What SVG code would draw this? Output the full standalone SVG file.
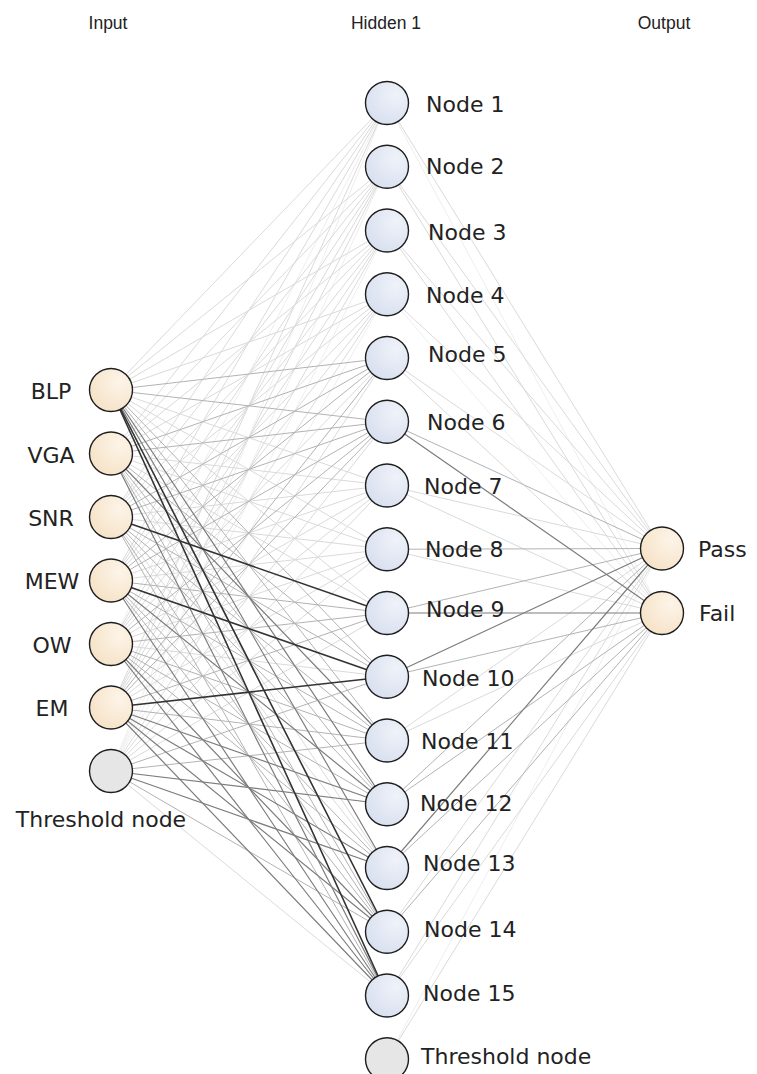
<svg xmlns="http://www.w3.org/2000/svg" width="757" height="1074" viewBox="0 0 757 1074">
<style>
.c line{stroke-linecap:round}
.w0{stroke:#eeeeee;stroke-width:1}
.w1{stroke:#dadada;stroke-width:1}
.w2{stroke:#b3b3b3;stroke-width:1}
.w3{stroke:#7d7d7d;stroke-width:1.2}
.w4{stroke:#333333;stroke-width:1.6}
.n{stroke:#1e1e1e;stroke-width:1.4}
.in{fill:url(#gIn)}
.hid{fill:url(#gHid)}
.th{fill:#e6e6e6}
.lbl{font-family:"DejaVu Sans",Verdana,sans-serif;font-size:22px;fill:#222}
.hdr{font-family:"Liberation Sans",Arial,sans-serif;font-size:17.5px;fill:#222;text-anchor:middle}
</style>
<defs>
<radialGradient id="gIn" cx="0.7" cy="0.3" r="0.85"><stop offset="0" stop-color="#fdf4e8"/><stop offset="1" stop-color="#f5e1c4"/></radialGradient>
<radialGradient id="gHid" cx="0.7" cy="0.3" r="0.85"><stop offset="0" stop-color="#eff2f9"/><stop offset="1" stop-color="#d6deee"/></radialGradient>
</defs>
<rect width="757" height="1074" fill="#ffffff"/>
<g id="headers">
<text class="hdr" x="108" y="29">Input</text>
<text class="hdr" x="386" y="29">Hidden 1</text>
<text class="hdr" x="664" y="29">Output</text>
</g>
<g id="connectors" class="c">
<!-- class 0 -->
<line class="w0" x1="111" y1="644" x2="387" y2="103"/>
<line class="w0" x1="111" y1="771" x2="387" y2="103"/>
<line class="w0" x1="111" y1="771" x2="387" y2="166.75"/>
<line class="w0" x1="111" y1="771" x2="387" y2="230.5"/>
<line class="w0" x1="111" y1="771" x2="387" y2="294.25"/>
<line class="w0" x1="387" y1="103" x2="662" y2="613"/>
<line class="w0" x1="387" y1="294.25" x2="662" y2="613"/>
<line class="w0" x1="387" y1="1059.25" x2="662" y2="548.5"/>
<!-- class 1 -->
<line class="w1" x1="111" y1="390" x2="387" y2="103"/>
<line class="w1" x1="111" y1="390" x2="387" y2="166.75"/>
<line class="w1" x1="111" y1="390" x2="387" y2="230.5"/>
<line class="w1" x1="111" y1="390" x2="387" y2="294.25"/>
<line class="w1" x1="111" y1="390" x2="387" y2="485.5"/>
<line class="w1" x1="111" y1="390" x2="387" y2="549.25"/>
<line class="w1" x1="111" y1="390" x2="387" y2="613"/>
<line class="w1" x1="111" y1="453.5" x2="387" y2="103"/>
<line class="w1" x1="111" y1="453.5" x2="387" y2="166.75"/>
<line class="w1" x1="111" y1="453.5" x2="387" y2="230.5"/>
<line class="w1" x1="111" y1="453.5" x2="387" y2="294.25"/>
<line class="w1" x1="111" y1="453.5" x2="387" y2="485.5"/>
<line class="w1" x1="111" y1="453.5" x2="387" y2="549.25"/>
<line class="w1" x1="111" y1="453.5" x2="387" y2="613"/>
<line class="w1" x1="111" y1="453.5" x2="387" y2="868"/>
<line class="w1" x1="111" y1="517" x2="387" y2="103"/>
<line class="w1" x1="111" y1="517" x2="387" y2="166.75"/>
<line class="w1" x1="111" y1="517" x2="387" y2="230.5"/>
<line class="w1" x1="111" y1="517" x2="387" y2="294.25"/>
<line class="w1" x1="111" y1="517" x2="387" y2="485.5"/>
<line class="w1" x1="111" y1="517" x2="387" y2="549.25"/>
<line class="w1" x1="111" y1="517" x2="387" y2="868"/>
<line class="w1" x1="111" y1="580.5" x2="387" y2="103"/>
<line class="w1" x1="111" y1="580.5" x2="387" y2="166.75"/>
<line class="w1" x1="111" y1="580.5" x2="387" y2="230.5"/>
<line class="w1" x1="111" y1="580.5" x2="387" y2="294.25"/>
<line class="w1" x1="111" y1="580.5" x2="387" y2="485.5"/>
<line class="w1" x1="111" y1="580.5" x2="387" y2="549.25"/>
<line class="w1" x1="111" y1="644" x2="387" y2="166.75"/>
<line class="w1" x1="111" y1="644" x2="387" y2="230.5"/>
<line class="w1" x1="111" y1="644" x2="387" y2="294.25"/>
<line class="w1" x1="111" y1="644" x2="387" y2="358"/>
<line class="w1" x1="111" y1="644" x2="387" y2="485.5"/>
<line class="w1" x1="111" y1="644" x2="387" y2="549.25"/>
<line class="w1" x1="111" y1="644" x2="387" y2="676.75"/>
<line class="w1" x1="111" y1="707.5" x2="387" y2="103"/>
<line class="w1" x1="111" y1="707.5" x2="387" y2="166.75"/>
<line class="w1" x1="111" y1="707.5" x2="387" y2="230.5"/>
<line class="w1" x1="111" y1="707.5" x2="387" y2="294.25"/>
<line class="w1" x1="111" y1="707.5" x2="387" y2="485.5"/>
<line class="w1" x1="111" y1="707.5" x2="387" y2="549.25"/>
<line class="w1" x1="111" y1="771" x2="387" y2="358"/>
<line class="w1" x1="111" y1="771" x2="387" y2="421.75"/>
<line class="w1" x1="111" y1="771" x2="387" y2="485.5"/>
<line class="w1" x1="111" y1="771" x2="387" y2="549.25"/>
<line class="w1" x1="111" y1="771" x2="387" y2="613"/>
<line class="w1" x1="111" y1="771" x2="387" y2="995.5"/>
<line class="w1" x1="387" y1="103" x2="662" y2="548.5"/>
<line class="w1" x1="387" y1="166.75" x2="662" y2="548.5"/>
<line class="w1" x1="387" y1="166.75" x2="662" y2="613"/>
<line class="w1" x1="387" y1="230.5" x2="662" y2="548.5"/>
<line class="w1" x1="387" y1="230.5" x2="662" y2="613"/>
<line class="w1" x1="387" y1="294.25" x2="662" y2="548.5"/>
<line class="w1" x1="387" y1="358" x2="662" y2="548.5"/>
<line class="w1" x1="387" y1="358" x2="662" y2="613"/>
<line class="w1" x1="387" y1="485.5" x2="662" y2="548.5"/>
<line class="w1" x1="387" y1="485.5" x2="662" y2="613"/>
<line class="w1" x1="387" y1="549.25" x2="662" y2="613"/>
<line class="w1" x1="387" y1="740.5" x2="662" y2="548.5"/>
<line class="w1" x1="387" y1="740.5" x2="662" y2="613"/>
<line class="w1" x1="387" y1="931.75" x2="662" y2="548.5"/>
<line class="w1" x1="387" y1="995.5" x2="662" y2="548.5"/>
<line class="w1" x1="387" y1="995.5" x2="662" y2="613"/>
<line class="w1" x1="387" y1="1059.25" x2="662" y2="613"/>
<!-- class 2 -->
<line class="w2" x1="111" y1="390" x2="387" y2="358"/>
<line class="w2" x1="111" y1="390" x2="387" y2="421.75"/>
<line class="w2" x1="111" y1="390" x2="387" y2="676.75"/>
<line class="w2" x1="111" y1="390" x2="387" y2="740.5"/>
<line class="w2" x1="111" y1="453.5" x2="387" y2="358"/>
<line class="w2" x1="111" y1="453.5" x2="387" y2="421.75"/>
<line class="w2" x1="111" y1="453.5" x2="387" y2="676.75"/>
<line class="w2" x1="111" y1="453.5" x2="387" y2="804.25"/>
<line class="w2" x1="111" y1="453.5" x2="387" y2="931.75"/>
<line class="w2" x1="111" y1="517" x2="387" y2="358"/>
<line class="w2" x1="111" y1="517" x2="387" y2="421.75"/>
<line class="w2" x1="111" y1="517" x2="387" y2="676.75"/>
<line class="w2" x1="111" y1="517" x2="387" y2="740.5"/>
<line class="w2" x1="111" y1="517" x2="387" y2="804.25"/>
<line class="w2" x1="111" y1="517" x2="387" y2="931.75"/>
<line class="w2" x1="111" y1="517" x2="387" y2="995.5"/>
<line class="w2" x1="111" y1="580.5" x2="387" y2="358"/>
<line class="w2" x1="111" y1="580.5" x2="387" y2="421.75"/>
<line class="w2" x1="111" y1="580.5" x2="387" y2="613"/>
<line class="w2" x1="111" y1="580.5" x2="387" y2="740.5"/>
<line class="w2" x1="111" y1="580.5" x2="387" y2="868"/>
<line class="w2" x1="111" y1="580.5" x2="387" y2="931.75"/>
<line class="w2" x1="111" y1="644" x2="387" y2="421.75"/>
<line class="w2" x1="111" y1="644" x2="387" y2="613"/>
<line class="w2" x1="111" y1="644" x2="387" y2="740.5"/>
<line class="w2" x1="111" y1="644" x2="387" y2="804.25"/>
<line class="w2" x1="111" y1="644" x2="387" y2="868"/>
<line class="w2" x1="111" y1="707.5" x2="387" y2="358"/>
<line class="w2" x1="111" y1="707.5" x2="387" y2="421.75"/>
<line class="w2" x1="111" y1="707.5" x2="387" y2="613"/>
<line class="w2" x1="111" y1="707.5" x2="387" y2="740.5"/>
<line class="w2" x1="111" y1="771" x2="387" y2="676.75"/>
<line class="w2" x1="111" y1="771" x2="387" y2="740.5"/>
<line class="w2" x1="111" y1="771" x2="387" y2="931.75"/>
<line class="w2" x1="387" y1="421.75" x2="662" y2="548.5"/>
<line class="w2" x1="387" y1="549.25" x2="662" y2="548.5"/>
<line class="w2" x1="387" y1="613" x2="662" y2="548.5"/>
<line class="w2" x1="387" y1="676.75" x2="662" y2="613"/>
<line class="w2" x1="387" y1="804.25" x2="662" y2="548.5"/>
<line class="w2" x1="387" y1="804.25" x2="662" y2="613"/>
<line class="w2" x1="387" y1="868" x2="662" y2="613"/>
<line class="w2" x1="387" y1="931.75" x2="662" y2="613"/>
<!-- class 3 -->
<line class="w3" x1="111" y1="390" x2="387" y2="804.25"/>
<line class="w3" x1="111" y1="390" x2="387" y2="868"/>
<line class="w3" x1="111" y1="453.5" x2="387" y2="740.5"/>
<line class="w3" x1="111" y1="453.5" x2="387" y2="995.5"/>
<line class="w3" x1="111" y1="580.5" x2="387" y2="804.25"/>
<line class="w3" x1="111" y1="580.5" x2="387" y2="995.5"/>
<line class="w3" x1="111" y1="644" x2="387" y2="931.75"/>
<line class="w3" x1="111" y1="644" x2="387" y2="995.5"/>
<line class="w3" x1="111" y1="707.5" x2="387" y2="804.25"/>
<line class="w3" x1="111" y1="707.5" x2="387" y2="868"/>
<line class="w3" x1="111" y1="707.5" x2="387" y2="931.75"/>
<line class="w3" x1="111" y1="707.5" x2="387" y2="995.5"/>
<line class="w3" x1="111" y1="771" x2="387" y2="804.25"/>
<line class="w3" x1="111" y1="771" x2="387" y2="868"/>
<line class="w3" x1="387" y1="421.75" x2="662" y2="613"/>
<line class="w3" x1="387" y1="613" x2="662" y2="613"/>
<line class="w3" x1="387" y1="676.75" x2="662" y2="548.5"/>
<line class="w3" x1="387" y1="868" x2="662" y2="548.5"/>
<!-- class 4 -->
<line class="w4" x1="111" y1="390" x2="387" y2="931.75"/>
<line class="w4" x1="111" y1="390" x2="387" y2="995.5"/>
<line class="w4" x1="111" y1="517" x2="387" y2="613"/>
<line class="w4" x1="111" y1="580.5" x2="387" y2="676.75"/>
<line class="w4" x1="111" y1="707.5" x2="387" y2="676.75"/>
</g>
<g id="in-blp"><circle class="n in" cx="111" cy="390" r="21.5"/><text class="lbl" x="51" y="399" text-anchor="middle">BLP</text></g>
<g id="in-vga"><circle class="n in" cx="111" cy="453.5" r="21.5"/><text class="lbl" x="51" y="462.5" text-anchor="middle">VGA</text></g>
<g id="in-snr"><circle class="n in" cx="111" cy="517" r="21.5"/><text class="lbl" x="51" y="526" text-anchor="middle">SNR</text></g>
<g id="in-mew"><circle class="n in" cx="111" cy="580.5" r="21.5"/><text class="lbl" x="52" y="589" text-anchor="middle">MEW</text></g>
<g id="in-ow"><circle class="n in" cx="111" cy="644" r="21.5"/><text class="lbl" x="52" y="653" text-anchor="middle">OW</text></g>
<g id="in-em"><circle class="n in" cx="111" cy="707.5" r="21.5"/><text class="lbl" x="52" y="716" text-anchor="middle">EM</text></g>
<g id="in-threshold"><circle class="n th" cx="111" cy="771" r="21.5"/><text class="lbl" x="101" y="827" text-anchor="middle">Threshold node</text></g>
<g id="h1"><circle class="n hid" cx="387" cy="103" r="21.5"/><text class="lbl" x="426" y="112">Node 1</text></g>
<g id="h2"><circle class="n hid" cx="387" cy="166.75" r="21.5"/><text class="lbl" x="426" y="174">Node 2</text></g>
<g id="h3"><circle class="n hid" cx="387" cy="230.5" r="21.5"/><text class="lbl" x="428" y="240">Node 3</text></g>
<g id="h4"><circle class="n hid" cx="387" cy="294.25" r="21.5"/><text class="lbl" x="426" y="303">Node 4</text></g>
<g id="h5"><circle class="n hid" cx="387" cy="358" r="21.5"/><text class="lbl" x="428" y="362">Node 5</text></g>
<g id="h6"><circle class="n hid" cx="387" cy="421.75" r="21.5"/><text class="lbl" x="427" y="430">Node 6</text></g>
<g id="h7"><circle class="n hid" cx="387" cy="485.5" r="21.5"/><text class="lbl" x="424" y="494">Node 7</text></g>
<g id="h8"><circle class="n hid" cx="387" cy="549.25" r="21.5"/><text class="lbl" x="425" y="557">Node 8</text></g>
<g id="h9"><circle class="n hid" cx="387" cy="613" r="21.5"/><text class="lbl" x="426" y="617">Node 9</text></g>
<g id="h10"><circle class="n hid" cx="387" cy="676.75" r="21.5"/><text class="lbl" x="422" y="686">Node 10</text></g>
<g id="h11"><circle class="n hid" cx="387" cy="740.5" r="21.5"/><text class="lbl" x="421" y="749">Node 11</text></g>
<g id="h12"><circle class="n hid" cx="387" cy="804.25" r="21.5"/><text class="lbl" x="420" y="811">Node 12</text></g>
<g id="h13"><circle class="n hid" cx="387" cy="868" r="21.5"/><text class="lbl" x="423" y="871">Node 13</text></g>
<g id="h14"><circle class="n hid" cx="387" cy="931.75" r="21.5"/><text class="lbl" x="424" y="937">Node 14</text></g>
<g id="h15"><circle class="n hid" cx="387" cy="995.5" r="21.5"/><text class="lbl" x="423" y="1001">Node 15</text></g>
<g id="h-threshold"><circle class="n th" cx="387" cy="1059.25" r="21.5"/><text class="lbl" x="421" y="1064">Threshold node</text></g>
<g id="out-pass"><circle class="n in" cx="662" cy="548.5" r="21.5"/><text class="lbl" x="698" y="557">Pass</text></g>
<g id="out-fail"><circle class="n in" cx="662" cy="613" r="21.5"/><text class="lbl" x="699" y="621">Fail</text></g>
</svg>
